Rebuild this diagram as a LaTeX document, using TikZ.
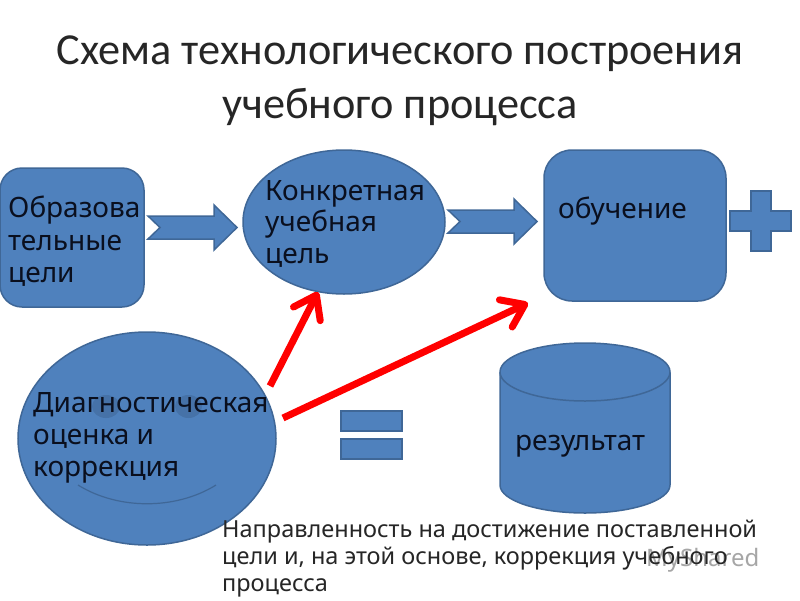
\documentclass[tikz,border=0pt]{standalone}
\usepackage{fontspec}
\setmainfont{Noto Sans}
\newfontfamily\titlefont{Carlito}
\usetikzlibrary{arrows.meta,shapes.geometric,calc}
\definecolor{blockfill}{HTML}{4F81BD}
\definecolor{blockline}{HTML}{3F6797}
\definecolor{inktext}{HTML}{0A0F1E}
\tikzset{
  x=1pt,y=-1pt,
  block/.style={draw=blockline,fill=blockfill,line width=1.5pt},
  lab/.style={inner sep=0pt,anchor=base west,text=inktext,font=\fontsize{28}{28}\selectfont},
  small/.style={inner sep=0pt,anchor=base west,text=black!85,font=\fontsize{23.5}{23.5}\selectfont},
  ttl/.style={inner sep=0pt,anchor=base,text=black!85,font=\titlefont\fontsize{44.3}{44.3}\selectfont},
  redarrow/.style={draw=red,line width=7pt,-{Straight Barb[length=21pt,width=30pt,line width=7pt,round]}}
}
\begin{document}
\begin{tikzpicture}
\useasboundingbox (0,0) rectangle (800,600);
\fill[white] (0,0) rectangle (800,600);
\node[ttl] (t1) at (400,64) {Схема технологического построения};
\node[ttl] (t2) at (400,118) {учебного процесса};

\node[block,rounded corners=22pt,minimum width=144pt,minimum height=139pt,inner sep=0pt] (obr) at (72,237.5) {};
\node[block,ellipse,minimum width=202pt,minimum height=144pt,inner sep=0pt] (kon) at (344,222) {};
\node[block,rounded corners=28pt,minimum width=182pt,minimum height=151pt,inner sep=0pt] (obu) at (635,225.5) {};
\node[block,ellipse,minimum width=258pt,minimum height=213pt,inner sep=0pt] (dia) at (147,438.5) {};
\path[block] (500,373) -- (500,485) arc[start angle=180,end angle=360,x radius=85pt,y radius=28pt] -- (670,373) -- cycle;
\path[block] (585,372) ellipse[x radius=85pt,y radius=29pt];

\path[block] (148,216) -- (214,216) -- (214,205) -- (237,227.5) -- (214,250) -- (214,239) -- (148,239) -- (160,227.5) -- cycle;
\path[block] (448,210) -- (514,210) -- (514,199) -- (537,221.5) -- (514,244) -- (514,233) -- (448,233) -- (460,221.5) -- cycle;
\path[block,line width=1.2pt] (751,191) -- (771,191) -- (771,211) -- (791,211) -- (791,231) -- (771,231) -- (771,251) -- (751,251) -- (751,231) -- (730,231) -- (730,211) -- (751,211) -- cycle;
\path[block,line width=1.2pt] (341,411) rectangle (402,431);
\path[block,line width=1.2pt] (341,439) rectangle (402,459);

\path[fill=blockline,fill opacity=.55] (106,406.5) ellipse[x radius=14pt,y radius=11.5pt];
\path[fill=blockline,fill opacity=.55] (188.5,406.5) ellipse[x radius=13.5pt,y radius=11.5pt];
\draw[blockline,line width=1.2pt] (78,485) .. controls (118,510) and (176,510) .. (216,485);

\coordinate (a1s) at (270,386);
\coordinate (a1e) at (318,292);
\coordinate (a2s) at (283,418);
\coordinate (a2e) at (528,303);
\draw[redarrow] (a1s) -- (a1e);
\draw[redarrow] (a2s) -- (a2e);

\node[inner sep=0pt,anchor=base west,text=black!35,font=\fontsize{24}{24}\selectfont] (wm) at (646,566) {MyShared};

\node[lab] (l1a) at (8,217) {Образова};
\node[lab] (l1b) at (8,250) {тельные};
\node[lab] (l1c) at (8,282) {цели};
\node[lab] (l2a) at (265,200) {Конкретная};
\node[lab] (l2b) at (265,231) {учебная};
\node[lab] (l2c) at (265,263) {цель};
\node[lab] (l3) at (558,218) {обучение};
\node[lab] (l4a) at (33,412) {Диагностическая};
\node[lab] (l4b) at (33,444) {оценка и};
\node[lab] (l4c) at (33,476) {коррекция};
\node[lab] (l5) at (515,450) {результат};
\node[small] (n1) at (222,537) {Направленность на достижение поставленной};
\node[small] (n2) at (222,564) {цели и, на этой основе, коррекция учебного};
\node[small] (n3) at (222,591) {процесса};
\end{tikzpicture}
\end{document}
